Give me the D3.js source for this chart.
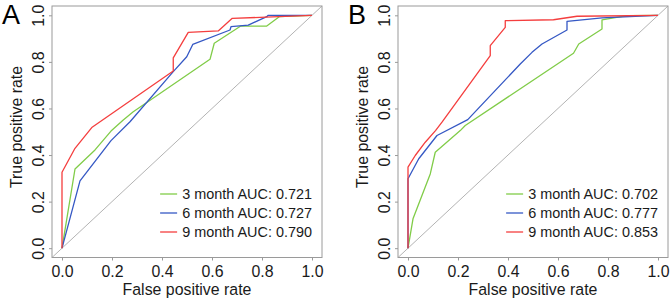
<!DOCTYPE html>
<html><head><meta charset="utf-8">
<script src="https://cdn.jsdelivr.net/npm/d3@7"></script>
<style>body{margin:0;background:#fff}svg{display:block}text{font-family:"Liberation Sans",Arial,sans-serif}</style>
</head><body><svg id="c" width="670" height="300"></svg>
<script>
const panels = ["A", "B"];
const seriesNames = ["3 month", "6 month", "9 month"];
const seriesColors = ["#80cc48", "#3558c4", "#f43e3e"];
const ticks = [0, 0.2, 0.4, 0.6, 0.8, 1.0];
const tickLabels = ["0.0", "0.2", "0.4", "0.6", "0.8", "1.0"];
const aucA = ["0.721", "0.727", "0.790"];
const aucB = ["0.702", "0.777", "0.853"];

// Panel A curves (FPR, TPR)
const fprA3 = [0, 0.052, 0.132, 0.196, 0.245, 0.285, 0.592, 0.609, 0.715, 0.819, 0.869, 1];
const tprA3 = [0, 0.340, 0.422, 0.503, 0.550, 0.586, 0.811, 0.880, 0.954, 0.954, 0.994, 1];
const fprA6 = [0, 0.072, 0.196, 0.272, 0.445, 0.499, 0.523, 0.672, 0.676, 0.745, 0.819, 0.825, 1];
const tprA6 = [0, 0.289, 0.462, 0.543, 0.758, 0.822, 0.875, 0.937, 0.951, 0.958, 0.994, 1.0, 1];
const fprA9 = [0, 0, 0.052, 0.119, 0.445, 0.445, 0.505, 0.625, 0.681, 0.866, 1];
const tprA9 = [0, 0.326, 0.429, 0.518, 0.761, 0.817, 0.927, 0.933, 0.987, 0.994, 1];

// Panel B curves
const fprB3 = [0, 0.020, 0.089, 0.109, 0.209, 0.229, 0.662, 0.683, 0.776, 0.776, 0.876, 1];
const tprB3 = [0, 0.126, 0.319, 0.412, 0.505, 0.527, 0.837, 0.877, 0.941, 0.980, 0.999, 1];
const fprB6 = [0, 0, 0.043, 0.116, 0.239, 0.449, 0.496, 0.536, 0.636, 0.636, 0.776, 0.909, 1];
const tprB6 = [0, 0.298, 0.384, 0.484, 0.552, 0.791, 0.841, 0.877, 0.937, 0.974, 0.989, 0.996, 1];
const fprB9 = [0, 0, 0.029, 0.069, 0.110, 0.136, 0.329, 0.329, 0.389, 0.389, 0.582, 0.676, 1];
const tprB9 = [0, 0.348, 0.398, 0.455, 0.505, 0.541, 0.827, 0.870, 0.948, 0.977, 0.981, 0.996, 1];

const curves = {
  A: [[fprA3, tprA3], [fprA6, tprA6], [fprA9, tprA9]],
  B: [[fprB3, tprB3], [fprB6, tprB6], [fprB9, tprB9]]
};
const aucs = {A: aucA, B: aucB};

const svg = d3.select("#c");
const layout = {A: {left: 52, right: 322}, B: {left: 398, right: 668}};
const plotTop = 6, plotBottom = 257.5;

// fit font sizes so that text widths match the reference
function fitSize(str, targetWidth) {
  const t = svg.append("text").attr("font-size", 100).text(str);
  const w = t.node().getComputedTextLength();
  t.remove();
  return 100 * targetWidth / w;
}
const labSize = fitSize("False positive rate", 129);
const legSize = fitSize("3 month AUC: 0.721", 130);

panels.forEach(p => {
  const L = layout[p];
  const x = d3.scaleLinear().domain([-0.04, 1.04]).range([L.left, L.right]);
  const y = d3.scaleLinear().domain([-0.04, 1.04]).range([plotBottom, plotTop]);
  const g = svg.append("g");

  g.append("rect").attr("x", L.left).attr("y", plotTop)
    .attr("width", L.right - L.left).attr("height", plotBottom - plotTop)
    .attr("fill", "none").attr("stroke", "#9a9a9a").attr("stroke-width", 1);

  const xa = g.append("g").attr("transform", `translate(0,${plotBottom})`)
    .call(d3.axisBottom(x).tickValues(ticks).tickFormat((d, i) => tickLabels[i]).tickSize(3).tickPadding(4));
  xa.select(".domain").remove();
  xa.selectAll("line").attr("stroke", "#9a9a9a");
  xa.selectAll("text").attr("font-size", labSize).attr("fill", "#1a1a1a")
    .attr("font-family", "Liberation Sans, Arial, sans-serif").attr("y", 19).attr("dy", null);

  const ya = g.append("g").attr("transform", `translate(${L.left},0)`)
    .call(d3.axisLeft(y).tickValues(ticks).tickFormat((d, i) => tickLabels[i]).tickSize(3).tickPadding(0));
  ya.select(".domain").remove();
  ya.selectAll("line").attr("stroke", "#9a9a9a");
  ya.selectAll(".tick text").attr("font-size", labSize).attr("fill", "#1a1a1a")
    .attr("font-family", "Liberation Sans, Arial, sans-serif")
    .attr("text-anchor", "middle").attr("dy", null)
    .attr("transform", "rotate(-90)").attr("x", 0).attr("y", -8.5);

  g.append("line").attr("x1", x(-0.04)).attr("y1", y(-0.04)).attr("x2", x(1.04)).attr("y2", y(1.04))
    .attr("stroke", "#a0a0a0").attr("stroke-width", 0.8);

  const line = d3.line().x(d => x(d[0])).y(d => y(d[1]));
  curves[p].forEach((c, i) => {
    const pts = c[0].map((v, k) => [v, c[1][k]]);
    g.append("path").datum(pts).attr("d", line).attr("fill", "none")
      .attr("stroke", seriesColors[i]).attr("stroke-width", 1.3).attr("stroke-linejoin", "round");
  });

  g.append("text").attr("x", (x(0) + x(1)) / 2).attr("y", 294.5).attr("text-anchor", "middle")
    .attr("font-size", labSize).attr("fill", "#1a1a1a").text("False positive rate");
  g.append("text").attr("transform", `translate(${L.left - 30},127) rotate(-90)`)
    .attr("text-anchor", "middle").attr("font-size", labSize).attr("fill", "#1a1a1a").text("True positive rate");
  g.append("text").attr("x", L.left - 50).attr("y", 24).attr("font-size", 27).attr("fill", "#000").text(p);

  const textEnd = x(1);
  const rowY = [194, 213, 232];
  seriesNames.forEach((s, i) => {
    const t = g.append("text").attr("x", textEnd).attr("y", rowY[i] + 5).attr("text-anchor", "end")
      .attr("font-size", legSize).attr("fill", "#1a1a1a").text(`${s} AUC: ${aucs[p][i]}`);
    const w = t.node().getComputedTextLength();
    const sx = textEnd - w;
    g.append("line").attr("x1", sx - 22).attr("x2", sx - 5).attr("y1", rowY[i]).attr("y2", rowY[i])
      .attr("stroke", seriesColors[i]).attr("stroke-width", 1.3);
  });
});
</script></body></html>
